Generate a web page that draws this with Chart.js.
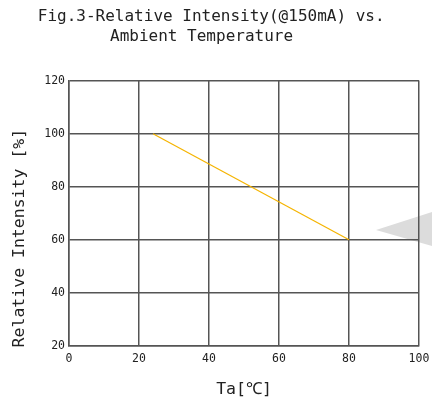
<!DOCTYPE html>
<html>
<head>
<meta charset="utf-8">
<script src="https://cdn.jsdelivr.net/npm/chart.js@4"></script>
<style>
  html, body { margin: 0; padding: 0; background: #fff; }
  #wrap { width: 432px; height: 400px; }
</style>
</head>
<body>
<div id="wrap"><canvas id="myChart"></canvas></div>
<script>
// values
const ambientTemp = [24, 80];
const relIntensity = [100, 60];
const xTicks = [0, 20, 40, 60, 80, 100];
const yTicks = [20, 40, 60, 80, 100, 120];

const mono = 'DejaVu Sans Mono';

// grey wedge on the right edge of the scan
const wedge = {
  id: 'wedge',
  beforeDraw(chart) {
    const c = chart.ctx;
    c.save();
    c.fillStyle = '#dcdcdc';
    c.beginPath();
    c.moveTo(376, 230);
    c.lineTo(432, 212);
    c.lineTo(432, 246);
    c.closePath();
    c.fill();
    c.restore();
  }
};

const ctx = document.getElementById('myChart');

new Chart(ctx, {
  type: 'line',
  data: {
    datasets: [{
      data: ambientTemp.map((t, i) => ({ x: t, y: relIntensity[i] })),
      borderColor: '#f5b400',
      borderWidth: 1.2,
      pointRadius: 0,
      fill: false
    }]
  },
  plugins: [wedge],
  options: {
    responsive: true,
    maintainAspectRatio: false,
    animation: false,
    layout: { padding: { left: 0, right: 0, top: 0, bottom: 0 } },
    plugins: {
      legend: { display: false },
      tooltip: { enabled: false },
      title: {
        display: true,
        text: ['Fig.3-Relative Intensity(@150mA) vs. ', 'Ambient Temperature   '],
        color: '#222',
        font: { family: mono, size: 16, weight: 'normal', lineHeight: 1.3 },
        padding: { top: 6, bottom: 33 }
      }
    },
    scales: {
      x: {
        type: 'linear',
        min: 0,
        max: 100,
        afterBuildTicks: s => { s.ticks = xTicks.map(v => ({ value: v })); },
        afterFit: s => { s.height = 54; s.paddingLeft = 0; s.paddingRight = 13; },
        grid: { color: '#555', lineWidth: 1.5, drawTicks: false },
        border: { color: '#555', width: 1.5 },
        ticks: { color: '#222', padding: 6, font: { family: mono, size: 11.5 } },
        title: {
          display: true,
          text: 'Ta[℃]',
          color: '#222',
          font: { family: mono, size: 16.5 },
          padding: { top: 9, bottom: 0 }
        }
      },
      y: {
        min: 20,
        max: 120,
        afterBuildTicks: s => { s.ticks = yTicks.map(v => ({ value: v })); },
        afterFit: s => { s.width = 69; },
        grid: { color: '#555', lineWidth: 1.5, drawTicks: false },
        border: { color: '#555', width: 1.5 },
        ticks: { color: '#222', padding: 4, font: { family: mono, size: 11.5 } },
        title: {
          display: true,
          text: 'Relative Intensity [%]     ',
          color: '#222',
          font: { family: mono, size: 16.5 },
          padding: { top: 10, bottom: 12 }
        }
      }
    }
  }
});
</script>
</body>
</html>
